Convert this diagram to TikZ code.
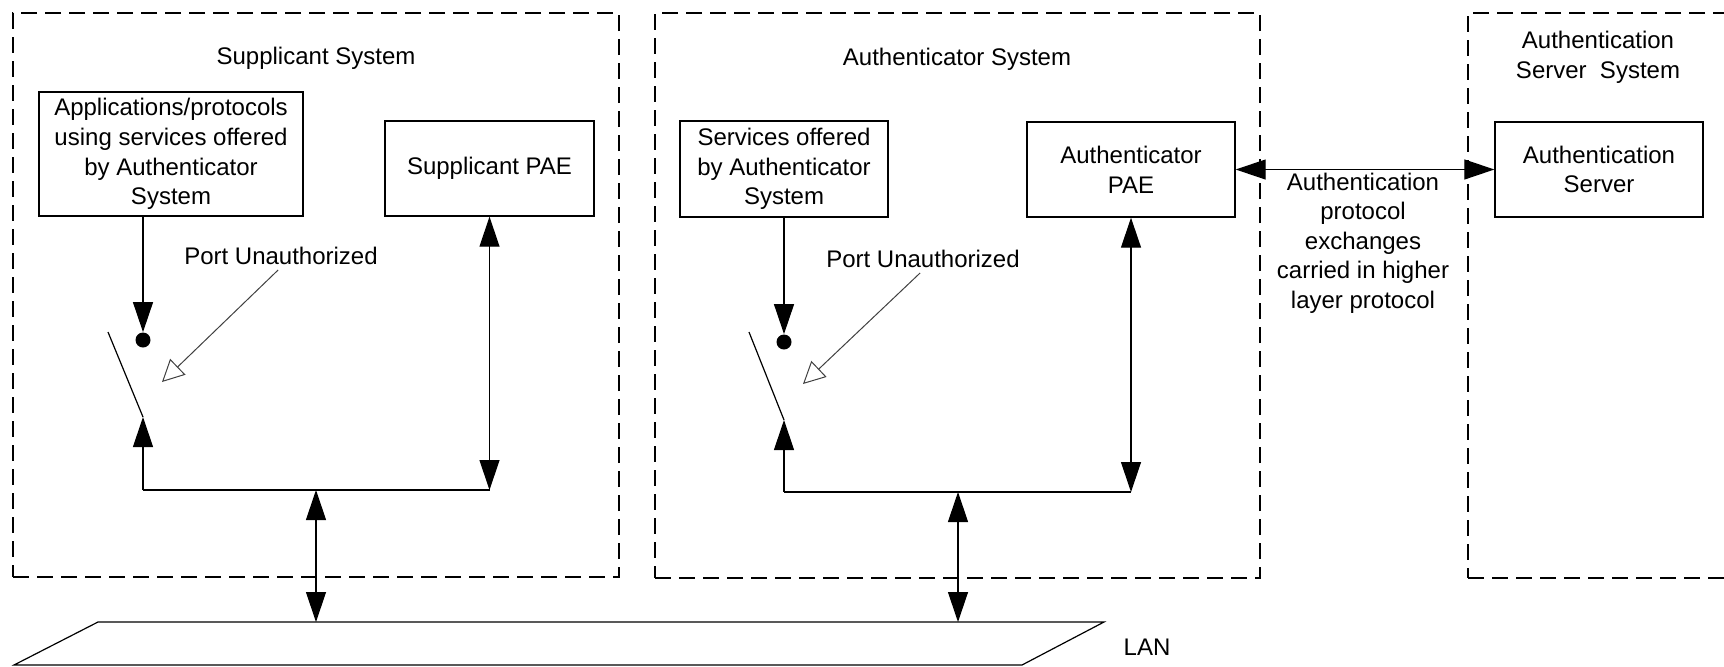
\documentclass[tikz,border=0pt]{standalone}
\usepackage{fontspec}
\setmainfont{Liberation Sans}
\usetikzlibrary{arrows.meta}
\begin{document}
\begin{tikzpicture}[x=0.5pt,y=-0.5pt,
  every node/.style={font=\fontsize{12}{14.8}\selectfont},
  box/.style={draw, line width=0.7pt, align=center, inner sep=0pt},
  sysbox/.style={draw, dash pattern=on 8pt off 4pt, line width=0.7pt, inner sep=0pt},
  conn/.style={line width=0.6pt},
  arr/.style={conn, -{Triangle[length=15pt,width=10pt]}},
  arrs/.style={conn, {Triangle[length=15pt,width=10pt]}-{Triangle[length=15pt,width=10pt]}},
  openarr/.style={line width=0.5pt, draw=black!75, -{Triangle[open,length=11pt,width=11pt,fill=white]}},
  dotnode/.style={circle, fill, inner sep=0pt, minimum size=7.5pt},
  lbl/.style={align=center, inner sep=1pt}]
\useasboundingbox (0,0) rectangle (1724,666);
\clip (0,0) rectangle (1724,666);

% system boxes
\node[sysbox, minimum width=303pt, minimum height=282pt] (supsys) at (316,295) {};
\node[sysbox, minimum width=302.5pt, minimum height=282.5pt] (authsys) at (957.5,295.5) {};
\node[sysbox, minimum width=146pt, minimum height=282.5pt] (srvsys) at (1614,295.5) {};

% titles
\node[lbl] (suptitle) at (316,58) {Supplicant System};
\node[lbl] (authtitle) at (957,59) {Authenticator System};
\node[lbl] (srvtitle) at (1598,57) {Authentication\\Server\ \ System};

% boxes
\node[box, minimum width=132pt, minimum height=62pt] (apps) at (171,154) {Applications/protocols\\using services offered\\by Authenticator\\System};
\node[box, minimum width=104.5pt, minimum height=47.5pt] (suppae) at (489.5,168.5) {Supplicant PAE};
\node[box, minimum width=104pt, minimum height=48pt] (svc) at (784,169) {Services offered\\by Authenticator\\System};
\node[box, minimum width=104pt, minimum height=47.5pt] (authpae) at (1131,169.5) {Authenticator\\PAE};
\node[box, minimum width=104pt, minimum height=47.5pt] (server) at (1599,169.5) {Authentication\\Server};

% LAN
\coordinate (lanTL) at (98,622);
\coordinate (lanTR) at (1104,622);
\coordinate (lanBR) at (1022,665);
\coordinate (lanBL) at (14,665);
\draw[conn] (lanTL) -- (lanTR) -- (lanBR) -- (lanBL) -- cycle;
\node[lbl] (lan) at (1147,647) {LAN};

% supplicant switch
\node[dotnode] (dot1) at (143,340) {};
\coordinate (blA1) at (108,332);
\coordinate (blB1) at (143,417);
\coordinate (bus1L) at (143,490);
\coordinate (bus1R) at (489.5,490);
\coordinate (bus1M) at (316,490);
\draw[arr] (apps.south -| dot1) -- (dot1.north);
\draw[conn] (blA1) -- (blB1);
\draw[arr] (bus1L) -- (blB1);
\draw[conn] (bus1L) -- (bus1R);
\draw[arrs] (suppae.south) -- (bus1R);
\draw[arrs] (bus1M) -- (bus1M |- lanTL);
\node[lbl] (pu1) at (281,256) {Port Unauthorized};
\coordinate (pu1tip) at (162,382);
\draw[openarr, shorten <=2pt] (pu1.south) -- (pu1tip);

% authenticator switch
\node[dotnode] (dot2) at (784,342) {};
\coordinate (blA2) at (749,332);
\coordinate (blB2) at (784,420);
\coordinate (bus2L) at (784,492);
\coordinate (bus2R) at (1131,492);
\coordinate (bus2M) at (958,492);
\draw[arr] (svc.south) -- (dot2.north);
\draw[conn] (blA2) -- (blB2);
\draw[arr] (bus2L) -- (blB2);
\draw[conn] (bus2L) -- (bus2R);
\draw[arrs] (authpae.south) -- (bus2R);
\draw[arrs] (bus2M) -- (bus2M |- lanTL);
\node[lbl] (pu2) at (923,259) {Port Unauthorized};
\coordinate (pu2tip) at (803,384);
\draw[openarr, shorten <=2pt] (pu2.south) -- (pu2tip);

% authentication protocol
\draw[arrs] (authpae.east) -- (server.west);
\node[lbl] (proto) at (1363,243) {Authentication\\protocol\\exchanges\\carried in higher\\layer protocol};
\end{tikzpicture}
\end{document}
